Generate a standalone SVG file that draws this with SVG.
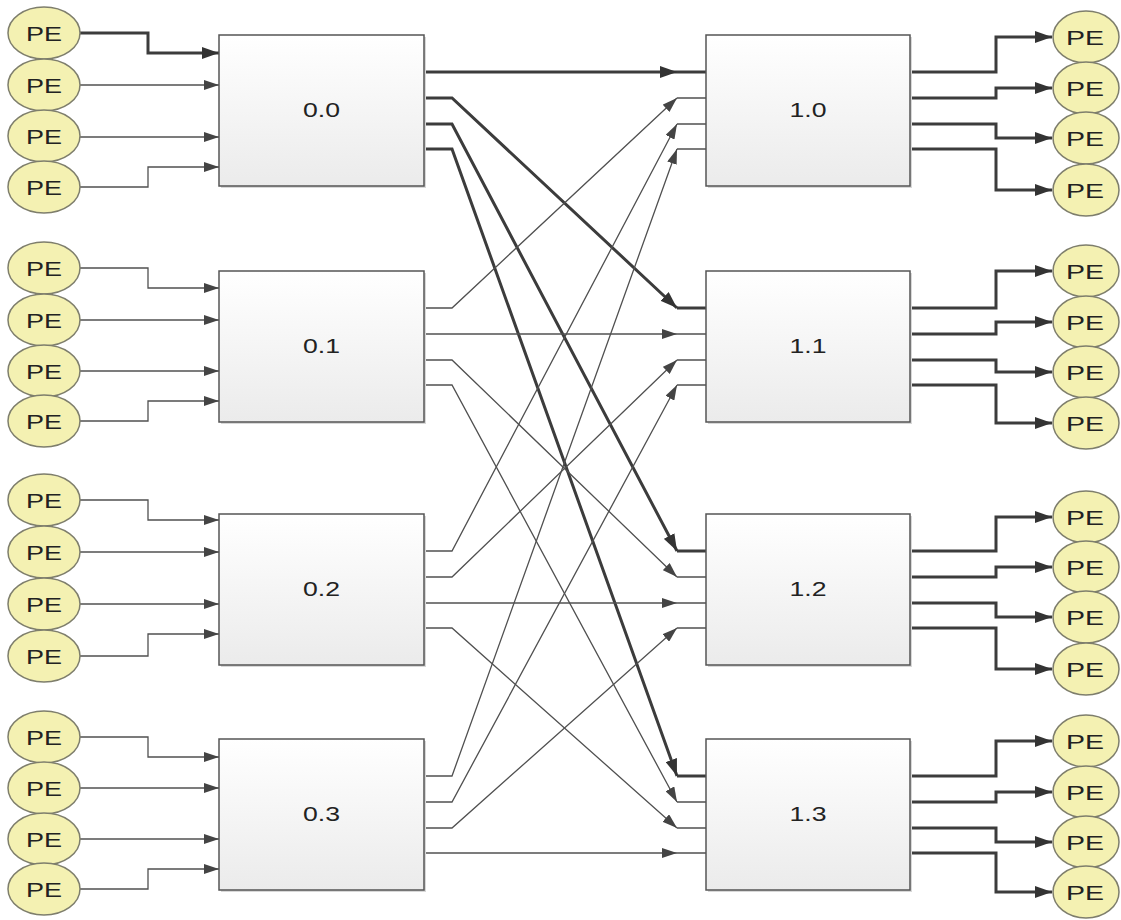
<svg xmlns="http://www.w3.org/2000/svg" width="1121" height="920" viewBox="0 0 1121 920">
<style>
.box{fill:url(#bg);stroke:#555;stroke-width:1.5}
.sh{fill:#d8d8d8}
.pe{fill:#f4f1b2;stroke:#7e7e6c;stroke-width:1.5}
.t{font-family:"Liberation Sans",Arial,sans-serif;fill:#222;text-anchor:middle}
.pt{font-size:21px}
.bt{font-size:20px}
.c{fill:none;stroke:#505050;stroke-width:1.3}
.k{fill:none;stroke:#3c3c3c;stroke-width:3}
.ca{marker-end:url(#at)}
.ka{marker-end:url(#ak)}
</style>
<defs>
<linearGradient id="bg" x1="0" y1="0" x2="0" y2="1">
<stop offset="0" stop-color="#ffffff"/>
<stop offset="1" stop-color="#ebebeb"/>
</linearGradient>
<marker id="at" viewBox="0 0 15 10" refX="15" refY="5" markerWidth="15" markerHeight="10" markerUnits="userSpaceOnUse" orient="auto"><path d="M0,0 L15,5 L0,10 z" fill="#444"/></marker>
<marker id="ak" viewBox="0 0 17 12" refX="17" refY="6" markerWidth="17" markerHeight="12" markerUnits="userSpaceOnUse" orient="auto"><path d="M0,0 L17,6 L0,12 z" fill="#333"/></marker>
</defs>
<rect width="1121" height="920" fill="#fff"/>
<g id="connectors">
<path class="k ka" d="M80,33 H148 V53 H219"/>
<path class="c ca" d="M80,85 H219"/>
<path class="c ca" d="M80,137 H219"/>
<path class="c ca" d="M80,187 H148 V167 H219"/>
<path class="c ca" d="M80,268 H148 V288 H219"/>
<path class="c ca" d="M80,320 H219"/>
<path class="c ca" d="M80,371 H219"/>
<path class="c ca" d="M80,421 H148 V401 H219"/>
<path class="c ca" d="M80,500 H148 V520 H219"/>
<path class="c ca" d="M80,552 H219"/>
<path class="c ca" d="M80,604 H219"/>
<path class="c ca" d="M80,656 H148 V634 H219"/>
<path class="c ca" d="M80,737 H148 V757 H219"/>
<path class="c ca" d="M80,788 H219"/>
<path class="c ca" d="M80,839 H219"/>
<path class="c ca" d="M80,889 H148 V869 H219"/>
<path class="k ka" d="M424,72 H677"/>
<path class="k ka" d="M424,98 H452 L677,308"/>
<path class="k ka" d="M424,124 H452 L677,551"/>
<path class="k ka" d="M424,149 H452 L677,776"/>
<path class="c ca" d="M424,308 H452 L677,98"/>
<path class="c ca" d="M424,334 H677"/>
<path class="c ca" d="M424,360 H452 L677,577"/>
<path class="c ca" d="M424,385 H452 L677,802"/>
<path class="c ca" d="M424,551 H452 L677,124"/>
<path class="c ca" d="M424,577 H452 L677,360"/>
<path class="c ca" d="M424,603 H677"/>
<path class="c ca" d="M424,628 H452 L677,828"/>
<path class="c ca" d="M424,776 H452 L677,149"/>
<path class="c ca" d="M424,802 H452 L677,385"/>
<path class="c ca" d="M424,828 H452 L677,628"/>
<path class="c ca" d="M424,853 H677"/>
<path class="k" d="M677,72 H706 M677,308 H706 M677,551 H706 M677,776 H706"/>
<path class="c" d="M677,98 H706 M677,124 H706 M677,149 H706 M677,334 H706 M677,360 H706 M677,385 H706 M677,577 H706 M677,603 H706 M677,628 H706 M677,802 H706 M677,828 H706 M677,853 H706"/>
<path class="k ka" d="M910,72 H996 V37 H1052"/>
<path class="k ka" d="M910,98 H996 V88 H1052"/>
<path class="k ka" d="M910,124 H996 V138 H1052"/>
<path class="k ka" d="M910,149 H996 V190 H1052"/>
<path class="k ka" d="M910,308 H996 V271 H1052"/>
<path class="k ka" d="M910,334 H996 V322 H1052"/>
<path class="k ka" d="M910,360 H996 V372 H1052"/>
<path class="k ka" d="M910,385 H996 V423 H1052"/>
<path class="k ka" d="M910,551 H996 V517 H1052"/>
<path class="k ka" d="M910,577 H996 V567 H1052"/>
<path class="k ka" d="M910,603 H996 V617 H1052"/>
<path class="k ka" d="M910,628 H996 V669 H1052"/>
<path class="k ka" d="M910,776 H996 V741 H1052"/>
<path class="k ka" d="M910,802 H996 V792 H1052"/>
<path class="k ka" d="M910,828 H996 V842 H1052"/>
<path class="k ka" d="M910,853 H996 V892 H1052"/>
</g>
<g id="sw00"><rect class="sh" x="221" y="37" width="205" height="151"/><rect class="box" x="219" y="35" width="205" height="151"/><text class="t bt" x="321.5" y="117" textLength="37" lengthAdjust="spacingAndGlyphs">0.0</text></g>
<g id="sw01"><rect class="sh" x="221" y="273" width="205" height="151"/><rect class="box" x="219" y="271" width="205" height="151"/><text class="t bt" x="321.5" y="353" textLength="37" lengthAdjust="spacingAndGlyphs">0.1</text></g>
<g id="sw02"><rect class="sh" x="221" y="516" width="205" height="151"/><rect class="box" x="219" y="514" width="205" height="151"/><text class="t bt" x="321.5" y="596" textLength="37" lengthAdjust="spacingAndGlyphs">0.2</text></g>
<g id="sw03"><rect class="sh" x="221" y="741" width="205" height="151"/><rect class="box" x="219" y="739" width="205" height="151"/><text class="t bt" x="321.5" y="821" textLength="37" lengthAdjust="spacingAndGlyphs">0.3</text></g>
<g id="sw10"><rect class="sh" x="708" y="37" width="204" height="151"/><rect class="box" x="706" y="35" width="204" height="151"/><text class="t bt" x="808" y="117" textLength="37" lengthAdjust="spacingAndGlyphs">1.0</text></g>
<g id="sw11"><rect class="sh" x="708" y="273" width="204" height="151"/><rect class="box" x="706" y="271" width="204" height="151"/><text class="t bt" x="808" y="353" textLength="37" lengthAdjust="spacingAndGlyphs">1.1</text></g>
<g id="sw12"><rect class="sh" x="708" y="516" width="204" height="151"/><rect class="box" x="706" y="514" width="204" height="151"/><text class="t bt" x="808" y="596" textLength="37" lengthAdjust="spacingAndGlyphs">1.2</text></g>
<g id="sw13"><rect class="sh" x="708" y="741" width="204" height="151"/><rect class="box" x="706" y="739" width="204" height="151"/><text class="t bt" x="808" y="821" textLength="37" lengthAdjust="spacingAndGlyphs">1.3</text></g>
<g id="peL0"><ellipse class="pe" cx="44" cy="33" rx="36" ry="26"/><text class="t pt" x="44" y="41" textLength="36" lengthAdjust="spacingAndGlyphs">PE</text></g>
<g id="peL1"><ellipse class="pe" cx="44" cy="85" rx="36" ry="26"/><text class="t pt" x="44" y="93" textLength="36" lengthAdjust="spacingAndGlyphs">PE</text></g>
<g id="peL2"><ellipse class="pe" cx="44" cy="136" rx="36" ry="26"/><text class="t pt" x="44" y="144" textLength="36" lengthAdjust="spacingAndGlyphs">PE</text></g>
<g id="peL3"><ellipse class="pe" cx="44" cy="187" rx="36" ry="26"/><text class="t pt" x="44" y="195" textLength="36" lengthAdjust="spacingAndGlyphs">PE</text></g>
<g id="peL4"><ellipse class="pe" cx="44" cy="268" rx="36" ry="26"/><text class="t pt" x="44" y="276" textLength="36" lengthAdjust="spacingAndGlyphs">PE</text></g>
<g id="peL5"><ellipse class="pe" cx="44" cy="320" rx="36" ry="26"/><text class="t pt" x="44" y="328" textLength="36" lengthAdjust="spacingAndGlyphs">PE</text></g>
<g id="peL6"><ellipse class="pe" cx="44" cy="371" rx="36" ry="26"/><text class="t pt" x="44" y="379" textLength="36" lengthAdjust="spacingAndGlyphs">PE</text></g>
<g id="peL7"><ellipse class="pe" cx="44" cy="421" rx="36" ry="26"/><text class="t pt" x="44" y="429" textLength="36" lengthAdjust="spacingAndGlyphs">PE</text></g>
<g id="peL8"><ellipse class="pe" cx="44" cy="500" rx="36" ry="26"/><text class="t pt" x="44" y="508" textLength="36" lengthAdjust="spacingAndGlyphs">PE</text></g>
<g id="peL9"><ellipse class="pe" cx="44" cy="552" rx="36" ry="26"/><text class="t pt" x="44" y="560" textLength="36" lengthAdjust="spacingAndGlyphs">PE</text></g>
<g id="peL10"><ellipse class="pe" cx="44" cy="604" rx="36" ry="26"/><text class="t pt" x="44" y="612" textLength="36" lengthAdjust="spacingAndGlyphs">PE</text></g>
<g id="peL11"><ellipse class="pe" cx="44" cy="656" rx="36" ry="26"/><text class="t pt" x="44" y="664" textLength="36" lengthAdjust="spacingAndGlyphs">PE</text></g>
<g id="peL12"><ellipse class="pe" cx="44" cy="737" rx="36" ry="26"/><text class="t pt" x="44" y="745" textLength="36" lengthAdjust="spacingAndGlyphs">PE</text></g>
<g id="peL13"><ellipse class="pe" cx="44" cy="788" rx="36" ry="26"/><text class="t pt" x="44" y="796" textLength="36" lengthAdjust="spacingAndGlyphs">PE</text></g>
<g id="peL14"><ellipse class="pe" cx="44" cy="839" rx="36" ry="26"/><text class="t pt" x="44" y="847" textLength="36" lengthAdjust="spacingAndGlyphs">PE</text></g>
<g id="peL15"><ellipse class="pe" cx="44" cy="889" rx="36" ry="26"/><text class="t pt" x="44" y="897" textLength="36" lengthAdjust="spacingAndGlyphs">PE</text></g>
<g id="peR0"><ellipse class="pe" cx="1086" cy="37" rx="33" ry="26"/><text class="t pt" x="1085" y="45" textLength="38" lengthAdjust="spacingAndGlyphs">PE</text></g>
<g id="peR1"><ellipse class="pe" cx="1086" cy="88" rx="33" ry="26"/><text class="t pt" x="1085" y="96" textLength="38" lengthAdjust="spacingAndGlyphs">PE</text></g>
<g id="peR2"><ellipse class="pe" cx="1086" cy="138" rx="33" ry="26"/><text class="t pt" x="1085" y="146" textLength="38" lengthAdjust="spacingAndGlyphs">PE</text></g>
<g id="peR3"><ellipse class="pe" cx="1086" cy="190" rx="33" ry="26"/><text class="t pt" x="1085" y="198" textLength="38" lengthAdjust="spacingAndGlyphs">PE</text></g>
<g id="peR4"><ellipse class="pe" cx="1086" cy="271" rx="33" ry="26"/><text class="t pt" x="1085" y="279" textLength="38" lengthAdjust="spacingAndGlyphs">PE</text></g>
<g id="peR5"><ellipse class="pe" cx="1086" cy="322" rx="33" ry="26"/><text class="t pt" x="1085" y="330" textLength="38" lengthAdjust="spacingAndGlyphs">PE</text></g>
<g id="peR6"><ellipse class="pe" cx="1086" cy="372" rx="33" ry="26"/><text class="t pt" x="1085" y="380" textLength="38" lengthAdjust="spacingAndGlyphs">PE</text></g>
<g id="peR7"><ellipse class="pe" cx="1086" cy="423" rx="33" ry="26"/><text class="t pt" x="1085" y="431" textLength="38" lengthAdjust="spacingAndGlyphs">PE</text></g>
<g id="peR8"><ellipse class="pe" cx="1086" cy="517" rx="33" ry="26"/><text class="t pt" x="1085" y="525" textLength="38" lengthAdjust="spacingAndGlyphs">PE</text></g>
<g id="peR9"><ellipse class="pe" cx="1086" cy="567" rx="33" ry="26"/><text class="t pt" x="1085" y="575" textLength="38" lengthAdjust="spacingAndGlyphs">PE</text></g>
<g id="peR10"><ellipse class="pe" cx="1086" cy="617" rx="33" ry="26"/><text class="t pt" x="1085" y="625" textLength="38" lengthAdjust="spacingAndGlyphs">PE</text></g>
<g id="peR11"><ellipse class="pe" cx="1086" cy="669" rx="33" ry="26"/><text class="t pt" x="1085" y="677" textLength="38" lengthAdjust="spacingAndGlyphs">PE</text></g>
<g id="peR12"><ellipse class="pe" cx="1086" cy="741" rx="33" ry="26"/><text class="t pt" x="1085" y="749" textLength="38" lengthAdjust="spacingAndGlyphs">PE</text></g>
<g id="peR13"><ellipse class="pe" cx="1086" cy="792" rx="33" ry="26"/><text class="t pt" x="1085" y="800" textLength="38" lengthAdjust="spacingAndGlyphs">PE</text></g>
<g id="peR14"><ellipse class="pe" cx="1086" cy="842" rx="33" ry="26"/><text class="t pt" x="1085" y="850" textLength="38" lengthAdjust="spacingAndGlyphs">PE</text></g>
<g id="peR15"><ellipse class="pe" cx="1086" cy="892" rx="33" ry="26"/><text class="t pt" x="1085" y="900" textLength="38" lengthAdjust="spacingAndGlyphs">PE</text></g>
</svg>
